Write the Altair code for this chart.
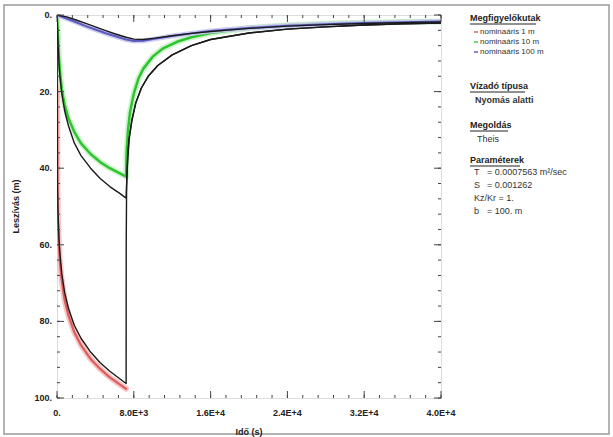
import altair as alt
import pandas as pd

# ---- pumping test readings: time (s) and drawdown (m) ----
# observation well at 1 m (red) and its Theis curve (black)
t_1m_obs = [0, 50, 100, 200, 300, 500, 800, 1200, 1800, 2500, 3500, 4500, 5500, 6500, 7200]
s_1m_obs = [0, 46, 53.5, 60.5, 64.5, 69.5, 74.5, 78.5, 82.8, 86.2, 89.8, 92.4, 94.6, 96.4, 97.6]
t_1m_fit = [0, 50, 100, 200, 300, 500, 800, 1200, 1800, 2500, 3500, 4500, 5500, 6500, 7200,
            7210, 7250, 7350, 7500, 7800, 8200, 8800, 9500, 10500, 12000, 14000, 16000,
            20000, 24000, 28000, 32000, 36000, 40000]
s_1m_fit = [0, 44, 51, 58, 62, 67.6, 72.5, 76.7, 81, 84.4, 88, 90.8, 93, 94.9, 96.2,
            60, 45, 37, 32.5, 27.5, 23, 19, 16, 13.2, 10.4, 8, 6.4,
            4.7, 3.7, 3.1, 2.6, 2.3, 2.1]

# observation well at 10 m (green) and its Theis curve (black)
t_10m_obs = [0, 100, 200, 300, 500, 800, 1200, 1800, 2500, 3500, 4500, 5500, 6500, 7200,
             7250, 7400, 7600, 8000, 8500, 9000, 10000, 11000, 12500, 14000, 16000,
             20000, 24000, 28000, 32000, 36000, 40000]
s_10m_obs = [0, 5.5, 11, 14.5, 19.5, 23.5, 27, 30.5, 33.5, 36.3, 38.4, 40, 41.3, 42.2,
             36, 30, 25.5, 20.5, 16.5, 14, 10.8, 8.8, 7, 5.8, 4.7,
             3.4, 2.7, 2.3, 2.0, 1.8, 1.7]
t_10m_fit = [0, 100, 200, 300, 500, 800, 1200, 1800, 2500, 3500, 4500, 5500, 6500, 7200,
             7300, 7500, 7800, 8200, 8800, 9500, 10500, 12000, 14000, 16000,
             20000, 24000, 28000, 32000, 36000, 40000]
s_10m_fit = [0, 6.5, 12.5, 16, 20.5, 25, 29, 33.4, 36.7, 40, 42.7, 44.8, 46.5, 47.8,
             41, 32.5, 27.5, 23, 19, 16, 13.2, 10.4, 8, 6.4,
             4.7, 3.7, 3.1, 2.6, 2.3, 2.1]

# observation well at 100 m (blue) and its Theis curve (black)
t_100m_obs = [0, 1000, 2000, 3000, 4000, 5000, 6000, 7200, 8000, 9000, 10000, 12000,
              14000, 16000, 20000, 24000, 28000, 32000, 36000, 40000]
s_100m_obs = [0, 0.9, 1.9, 2.9, 3.8, 4.7, 5.5, 6.4, 6.8, 6.7, 6.3, 5.5,
              4.8, 4.2, 3.4, 2.8, 2.4, 2.1, 1.9, 1.7]
t_100m_fit = t_100m_obs
s_100m_fit = [0, 0.5, 1.3, 2.2, 3.1, 4.0, 4.9, 5.8, 6.3, 6.4, 6.1, 5.4,
              4.8, 4.3, 3.5, 2.9, 2.5, 2.2, 2.0, 1.8]

# axis ticks and their printed labels
x_major = [0, 8000, 16000, 24000, 32000, 40000]
x_major_labels = ["0.", "8.0E+3", "1.6E+4", "2.4E+4", "3.2E+4", "4.0E+4"]
x_minor = list(range(0, 40001, 1600))
y_major = [0, 20, 40, 60, 80, 100]
y_major_labels = ["0.", "20.", "40.", "60.", "80.", "100."]
y_minor = list(range(0, 101, 4))

# side panel text
well_names = ["nominaáris 1 m", "nominaáris 10 m", "nominaáris 100 m"]
well_colors = ["#e06060", "#3fcf3f", "#6060c0"]
headings = ["Megfigyelőkutak", "Vízadó típusa", "Megoldás", "Paraméterek"]
aquifer_type = "Nyomás alatti"
solution = "Theis"
param_names = ["T", "S", "Kz/Kr", "b"]
param_values = ["= 0.0007563 m²/sec", "= 0.001262", "= 1.", "= 100. m"]

W, H = 384, 383
FONT = "Liberation Sans"
INK = "#222"

x_scale = alt.Scale(domain=[0, 40000], nice=False, zero=False)
y_scale = alt.Scale(domain=[0, 100], reverse=True, nice=False)


def curve(ts, ss, color, width, opacity=1.0):
    return alt.Chart(pd.DataFrame({"t": ts, "s": ss})).mark_line(
        color=color, strokeWidth=width, opacity=opacity, clip=True,
        strokeCap="round", strokeJoin="round"
    ).encode(
        x=alt.X("t:Q", scale=x_scale, axis=None),
        y=alt.Y("s:Q", scale=y_scale, axis=None),
        order="t:Q",
    )


# tick labels drawn as text through the same scales
x_lab = alt.Chart(pd.DataFrame({"t": x_major, "lab": x_major_labels})).mark_text(
    font=FONT, fontSize=9, fontWeight="bold", color=INK, baseline="middle"
).encode(x=alt.X("t:Q", scale=x_scale, axis=None), y=alt.value(H + 15), text="lab:N")

y_lab = alt.Chart(pd.DataFrame({"s": y_major, "lab": y_major_labels})).mark_text(
    font=FONT, fontSize=9, fontWeight="bold", color=INK, baseline="middle", align="right"
).encode(y=alt.Y("s:Q", scale=y_scale, axis=None), x=alt.value(-5), text="lab:N")

tick_color = "#444"


def xticks(vals, length, top):
    df = pd.DataFrame({"t": vals})
    y0, y1 = (0, length) if top else (H, H - length)
    return alt.Chart(df).mark_rule(color=tick_color, strokeWidth=1).encode(
        x=alt.X("t:Q", scale=x_scale, axis=None), y=alt.value(y0), y2=alt.value(y1))


def yticks(vals, length, right):
    df = pd.DataFrame({"s": vals})
    x0, x1 = (W, W - length) if right else (0, length)
    return alt.Chart(df).mark_rule(color=tick_color, strokeWidth=1).encode(
        y=alt.Y("s:Q", scale=y_scale, axis=None), x=alt.value(x0), x2=alt.value(x1))


ticks = [
    xticks(x_minor, 3, False), xticks(x_major, 7, False),
    xticks(x_minor, 3, True), xticks(x_major, 7, True),
    yticks(y_minor, 3, False), yticks(y_major, 7, False),
    yticks(y_minor, 3, True), yticks(y_major, 7, True),
]

one = pd.DataFrame({"k": [0]})


def label(text, x, y, size=8, weight="normal", color="#333", angle=0, align="left"):
    return alt.Chart(one).mark_text(
        text=text, font=FONT, fontSize=size, fontWeight=weight, color=color,
        angle=angle, align=align, baseline="middle"
    ).encode(x=alt.value(x), y=alt.value(y))


x_title = label("Idő (s)", W / 2, H + 34, 9, "bold", INK, align="center")
y_title = label("Leszívás (m)", -41, H / 2, 9, "bold", INK, angle=270, align="center")

# outer frame of the whole figure
frame = alt.Chart(one).mark_rect(fill=None, stroke="#9a9a9a", strokeWidth=1.5).encode(
    x=alt.value(-53), x2=alt.value(552), y=alt.value(-10), y2=alt.value(419))

# ---- side panel ----
PX = 413  # left edge of the side panel relative to the plot origin
head_y = [3, 71, 110, 145]
head_w = [66, 55, 38, 50]
panel = []
for name, yy, ww in zip(headings, head_y, head_w):
    panel.append(label(name, PX, yy, 9, "bold", INK))
    panel.append(alt.Chart(one).mark_rule(color=INK, strokeWidth=1).encode(
        x=alt.value(PX), x2=alt.value(PX + ww), y=alt.value(yy + 6)))

for i, (name, col) in enumerate(zip(well_names, well_colors)):
    yy = 17 + 10 * i
    panel.append(label(name, PX + 10, yy))
    panel.append(alt.Chart(one).mark_rule(color=col, strokeWidth=1.5).encode(
        x=alt.value(PX + 4), x2=alt.value(PX + 8), y=alt.value(yy)))

panel.append(label(aquifer_type, PX + 5, 85, 9, "bold"))
panel.append(label(solution, PX + 7, 124, 9))

# parameter rows: one-letter names get a padded "=" column
for i, (n, v) in enumerate(zip(param_names, param_values)):
    yy = 157 + 13 * i
    if len(n) == 1:
        panel.append(label(n, PX + 4, yy, 9))
        panel.append(label(v, PX + 17, yy, 9))
    else:
        panel.append(label(f"{n} {v}", PX + 4, yy, 9))

curves = [
    # observed bands with a soft halo
    curve(t_1m_obs, s_1m_obs, "#f6c0c0", 6, 0.9),
    curve(t_1m_obs, s_1m_obs, "#e05a5a", 2.2),
    curve(t_10m_obs, s_10m_obs, "#c6f2c6", 6, 0.9),
    curve(t_10m_obs, s_10m_obs, "#2fc42f", 2.5),
    curve(t_100m_obs, s_100m_obs, "#c9c9f0", 5, 0.9),
    curve(t_100m_obs, s_100m_obs, "#5a5ac0", 2),
    # Theis solution curves
    curve(t_1m_fit, s_1m_fit, "#1a1a1a", 1.4),
    curve(t_10m_fit, s_10m_fit, "#1a1a1a", 1.4),
    curve(t_100m_fit, s_100m_fit, "#1a1a1a", 1.4),
]

chart = alt.layer(frame, *curves, *ticks, x_lab, y_lab, x_title, y_title, *panel).properties(
    width=W, height=H,
    autosize=alt.AutoSizeParams(type="none"),
    padding={"left": 57, "top": 15, "right": 172, "bottom": 39},
).configure_view(stroke="#333", strokeWidth=1.2).configure(background="white")

chart.save("out.html", embed_options={"renderer": "svg", "actions": False})
